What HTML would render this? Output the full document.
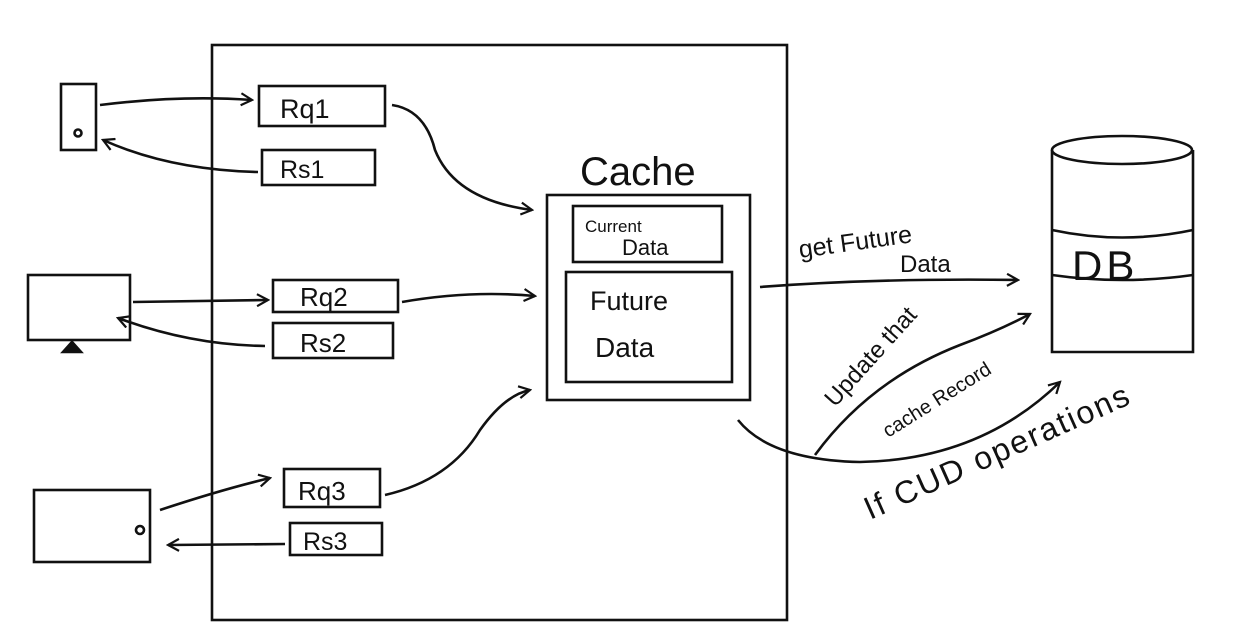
<!DOCTYPE html>
<html><head><meta charset="utf-8"><style>
html,body{margin:0;padding:0;background:#fff;}
svg{display:block}
text{font-family:"Liberation Sans",sans-serif;fill:#111}
</style></head><body>
<svg width="1235" height="635" viewBox="0 0 1235 635" xmlns="http://www.w3.org/2000/svg">
<defs>
<marker id="a" markerWidth="14" markerHeight="14" refX="12" refY="7" orient="auto" markerUnits="userSpaceOnUse">
<path d="M1,1 L12,7 L1,13" fill="none" stroke="#111" stroke-width="2.2"/>
</marker>
</defs>
<g fill="none" stroke="#111" stroke-width="2.6">
<rect x="212" y="45" width="575" height="575"/>
<rect x="61" y="84" width="35" height="66"/>
<circle cx="78" cy="133" r="3.5"/>
<rect x="259" y="86" width="126" height="40"/>
<rect x="262" y="150" width="113" height="35"/>
<path d="M100,105 Q180,95 252,100" marker-end="url(#a)"/>
<path d="M258,172 Q170,170 103,140" marker-end="url(#a)"/>
<rect x="28" y="275" width="102" height="65"/>
<path d="M63,352 L72,342 L81,352 Z" fill="#111"/>
<rect x="273" y="280" width="125" height="32"/>
<rect x="273" y="323" width="120" height="35"/>
<path d="M133,302 L268,300" marker-end="url(#a)"/>
<path d="M265,346 Q190,345 118,318" marker-end="url(#a)"/>
<path d="M402,302 Q470,290 535,296" marker-end="url(#a)"/>
<rect x="34" y="490" width="116" height="72"/>
<circle cx="140" cy="530" r="4"/>
<rect x="284" y="469" width="96" height="38"/>
<rect x="290" y="523" width="92" height="32"/>
<path d="M160,510 Q220,490 270,478" marker-end="url(#a)"/>
<path d="M285,544 L168,545" marker-end="url(#a)"/>
<path d="M385,495 Q450,480 480,430 Q505,395 530,390" marker-end="url(#a)"/>
<rect x="547" y="195" width="203" height="205"/>
<rect x="573" y="206" width="149" height="56"/>
<rect x="566" y="272" width="166" height="110"/>
<path d="M392,105 Q425,110 435,150 Q455,200 532,210" marker-end="url(#a)"/>
<path d="M1052,150 L1052,352 L1193,352 L1193,150"/>
<ellipse cx="1122" cy="150" rx="70" ry="14"/>
<path d="M1052,230 Q1122,245 1193,230"/>
<path d="M1052,275 Q1122,285 1193,275"/>
<path d="M760,287 Q880,278 1018,280" marker-end="url(#a)"/>
<path d="M738,420 Q770,460 860,462 Q980,460 1060,382" marker-end="url(#a)"/>
<path d="M815,455 Q870,380 960,345 Q1000,330 1030,314" marker-end="url(#a)"/>
</g>
<g>
<text x="280" y="118" font-size="27">Rq1</text>
<text x="280" y="178" font-size="25">Rs1</text>
<text x="300" y="306" font-size="26">Rq2</text>
<text x="300" y="352" font-size="26">Rs2</text>
<text x="298" y="500" font-size="26">Rq3</text>
<text x="303" y="550" font-size="25">Rs3</text>
<text x="580" y="185" font-size="40">Cache</text>
<text x="585" y="232" font-size="17">Current</text>
<text x="622" y="255" font-size="22">Data</text>
<text x="590" y="310" font-size="27">Future</text>
<text x="595" y="357" font-size="28">Data</text>
<text x="1072" y="280" font-size="42" letter-spacing="4">DB</text>
<text x="800" y="258" font-size="25" transform="rotate(-8 800 258)">get Future</text>
<text x="900" y="272" font-size="24">Data</text>
<text x="835" y="408" font-size="24" transform="rotate(-48 835 408)">Update that</text>
<text x="888" y="438" font-size="20" transform="rotate(-32 888 438)">cache Record</text>
<text x="870" y="520" font-size="32" letter-spacing="2" transform="rotate(-24 870 520)">If  CUD operations</text>
</g>
</svg>
</body></html>
